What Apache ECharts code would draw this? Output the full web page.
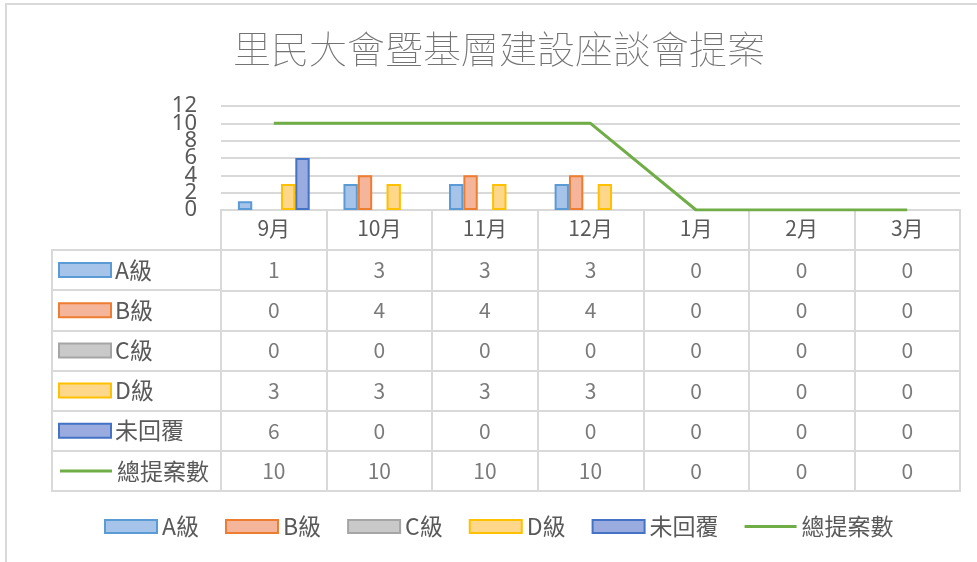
<!DOCTYPE html>
<html>
<head>
<meta charset="utf-8">
<script src="https://cdn.jsdelivr.net/npm/echarts@6/dist/echarts.min.js"></script>
<style>
   html, body { margin: 0; padding: 0; background: #ffffff; }
   #chartContainer { width: 977px; height: 562px; }
</style>
</head>
<body>
<div id="chartContainer"></div>
<script>

// chart data
const months   = ['9月', '10月', '11月', '12月', '1月', '2月', '3月'];
const gradeA   = [1, 3, 3, 3, 0, 0, 0];
const gradeB   = [0, 4, 4, 4, 0, 0, 0];
const gradeC   = [0, 0, 0, 0, 0, 0, 0];
const gradeD   = [3, 3, 3, 3, 0, 0, 0];
const noReply  = [6, 0, 0, 0, 0, 0, 0];
const total    = [10, 10, 10, 10, 0, 0, 0];
const seriesNames = ['A級', 'B級', 'C級', 'D級', '未回覆', '總提案數'];
const yMin = 0, yMax = 12, yStep = 2;

const barFill   = ['#a6c3e9', '#f5b59a', '#c9c9c9', '#ffd78b', '#99abdf'];
const barBorder = ['#5b9bd5', '#ed7d31', '#a5a5a5', '#ffc000', '#4472c4'];
const lineColor = '#70ad47';
const gridColor = '#d9d9d9';
const textColor = '#595959';
const fontName  = "'Noto Sans CJK TC', 'Noto Sans', sans-serif";


// value axis for the plot; the tick labels are split over two axes
// (even / odd steps) so echarts does not drop the ones that touch
function valueAxis(evenSteps)
{
   return {
      type: 'value', gridIndex: 0, position: 'left', min: yMin, max: yMax, interval: yStep,
      axisLine: { show: false }, axisTick: { show: false },
      axisLabel:
      {
         fontSize: 22, color: textColor, margin: 24, fontFamily: "'Noto Sans', sans-serif",
         showMinLabel: true, showMaxLabel: true,
         formatter: v => (Math.round((v - yMin) / yStep) % 2 === 0) === evenSteps ? String(v) : '',
      },
      splitLine: { show: evenSteps, lineStyle: { color: gridColor, width: 2 } },
   };
}


function setupChart()
{
   const chart = echarts.init(document.getElementById('chartContainer'), null, { renderer: 'canvas' });

   const barValues = [gradeA, gradeB, gradeC, gradeD, noReply];
   const tableRows = [gradeA, gradeB, gradeC, gradeD, noReply, total];

   // bar series, zero values get no outline
   const series = [];
   for (let i = 0; i < barValues.length; i++)
   {
      series.push(
      {
         type: 'bar',
         name: seriesNames[i],
         xAxisIndex: 0,
         yAxisIndex: 0,
         barGap: '0%',
         barCategoryGap: '32%',
         itemStyle: { color: barFill[i], borderColor: barBorder[i], borderWidth: 2 },
         data: barValues[i].map(v => v === 0 ? { value: 0, itemStyle: { borderWidth: 0 } } : v),
      });
   }

   series.push(
   {
      type: 'line',
      name: seriesNames[5],
      xAxisIndex: 0,
      yAxisIndex: 0,
      symbol: 'none',
      z: 5,
      lineStyle: { color: lineColor, width: 3 },
      itemStyle: { color: lineColor },
      data: total,
   });

   // data table cells (row 0 of the table grid is the month header)
   const cells = [];
   for (let r = 0; r < tableRows.length; r++)
      for (let c = 0; c < months.length; c++)
         cells.push([c, r + 1, tableRows[r][c]]);

   series.push(
   {
      type: 'scatter',
      xAxisIndex: 1,
      yAxisIndex: 2,
      symbolSize: 1,
      itemStyle: { color: 'rgba(0,0,0,0)' },
      label:
      {
         show: true,
         position: 'inside',
         formatter: p => String(p.value[2]),
         fontSize: 21,
         color: textColor,
         fontFamily: fontName,
      },
      silent: true,
      data: cells,
   });

   // key boxes in the left column of the table
   const rich = { t: { fontSize: 23, color: textColor, fontFamily: fontName, padding: [0, 0, 0, 5] } };
   for (let i = 0; i < barFill.length; i++)
   {
      rich['k' + i] =
      {
         width: 50, height: 12,
         backgroundColor: barFill[i],
         borderColor: barBorder[i],
         borderWidth: 2,
         verticalAlign: 'middle',
      };
   }
   rich.k5 = { width: 52, height: 3, backgroundColor: lineColor, verticalAlign: 'middle' };

   // legend icons: boxes for bars, plain stroke for the line
   const lineIcon = 'path://M0,0 M0,5 L52,5 L52,8 L0,8 Z M52,13';
   const legendData = seriesNames.map((n, i) => ({ name: n, icon: i < 5 ? 'rect' : lineIcon }));

   const option =
   {
      animation: false,
      backgroundColor: '#ffffff',
      textStyle: { fontFamily: fontName },
      title:
      {
         text: '里民大會暨基層建設座談會提案',
         left: 494,
         top: 25,
         textAlign: 'center',
         textStyle: { fontSize: 38, fontWeight: 'lighter', color: '#737373', fontFamily: fontName },
      },
      legend:
      {
         data: legendData,
         left: 99,
         top: 510,
         itemWidth: 52,
         itemHeight: 13,
         itemGap: 26,
         textStyle: { fontSize: 23, color: textColor, fontFamily: fontName },
      },
      grid:
      [
         { left: 221, top: 106, width: 739, height: 104, outerBoundsMode: 'none' },
         { left: 221, top: 210, width: 739, height: 281, outerBoundsMode: 'none',
           show: true, borderColor: gridColor, borderWidth: 2 },
         { left: 52, top: 250, width: 169, height: 241, outerBoundsMode: 'none',
           show: true, borderColor: gridColor, borderWidth: 2 },
      ],
      xAxis:
      [
         {
            type: 'category', gridIndex: 0, data: months,
            axisLine: { lineStyle: { color: gridColor, width: 2 } },
            axisTick: { show: false },
            axisLabel: { fontSize: 21, color: textColor, margin: 8, fontFamily: fontName },
         },
         {
            type: 'category', gridIndex: 1, data: months,
            axisLine: { show: false }, axisTick: { show: false }, axisLabel: { show: false },
            splitLine: { show: true, lineStyle: { color: gridColor, width: 2 } },
         },
         { type: 'value', gridIndex: 2, show: false },
      ],
      yAxis:
      [
         valueAxis(true),
         valueAxis(false),
         {
            type: 'category', gridIndex: 1, inverse: true,
            data: [''].concat(seriesNames),
            axisLine: { show: false }, axisTick: { show: false }, axisLabel: { show: false },
            splitLine: { show: true, lineStyle: { color: gridColor, width: 2 } },
         },
         {
            type: 'category', gridIndex: 2, inverse: true,
            data: seriesNames,
            axisLine: { show: false }, axisTick: { show: false },
            axisLabel:
            {
               inside: true,
               margin: 8,
               formatter: (v, idx) => '{k' + idx + '| }{t|' + v + '}',
               rich: rich,
            },
            splitLine: { show: true, lineStyle: { color: gridColor, width: 2 } },
         },
      ],
      graphic:
      [
         {
            type: 'rect',
            silent: true,
            shape: { x: 6, y: 4, width: 1000, height: 600 },
            style: { fill: 'none', stroke: gridColor, lineWidth: 2 },
         },
      ],
      series: series,
   };

   chart.setOption(option);
}


document.addEventListener('DOMContentLoaded', () =>
{
   setupChart();
});

</script>
</body>
</html>
